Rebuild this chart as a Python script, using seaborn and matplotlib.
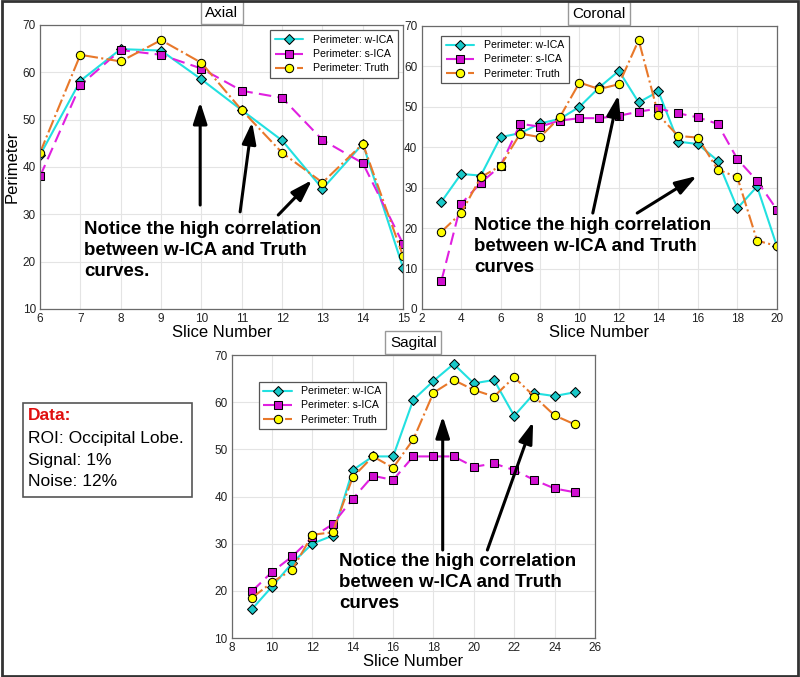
import numpy as np
import pandas as pd
import matplotlib
matplotlib.use("Agg")
import matplotlib.pyplot as plt
from matplotlib.patches import Rectangle
import seaborn as sns

# Valores
axial_x = list(range(6, 16))
axial_wica = [42.5, 58.2, 64.9, 64.6, 58.5, 52.0, 45.6, 35.4, 44.9, 18.6]
axial_sica = [38.0, 57.3, 64.7, 63.7, 60.8, 56.1, 54.6, 45.7, 40.8, 23.7]
axial_truth = [43.0, 63.7, 62.3, 66.8, 62.0, 52.0, 43.0, 36.7, 44.9, 21.1]

coronal_x = list(range(3, 21))
coronal_wica = [26.5, 33.4, 33.0, 42.5, 43.5, 45.9, 47.0, 50.0, 54.8, 58.9,
                51.1, 53.8, 41.4, 40.8, 36.7, 24.9, 30.3, 15.6]
coronal_sica = [6.9, 26.0, 31.2, 35.4, 45.8, 45.1, 46.6, 47.2, 47.2, 47.8,
                48.8, 49.6, 48.4, 47.4, 45.8, 37.1, 31.7, 24.6]
coronal_truth = [19.1, 23.7, 32.6, 35.4, 43.4, 42.5, 47.4, 56.0, 54.4, 55.6,
                 66.5, 48.0, 42.8, 42.4, 34.5, 32.6, 16.9, 15.6]

sagital_x = list(range(9, 26))
sagital_wica = [16.1, 20.9, 25.9, 30.0, 31.7, 45.6, 48.5, 48.5, 60.5, 64.5,
                68.1, 64.0, 64.7, 57.1, 61.9, 61.3, 62.1]
sagital_sica = [19.9, 24.0, 27.3, 31.4, 34.1, 39.5, 44.4, 43.5, 48.5, 48.5,
                48.5, 46.3, 47.0, 45.6, 43.5, 41.7, 40.9]
sagital_truth = [18.5, 21.8, 24.5, 31.9, 32.4, 44.1, 48.5, 46.1, 52.1, 62.0,
                 64.7, 62.6, 61.2, 65.3, 61.2, 57.2, 55.3]

note_text = "Notice the high correlation\nbetween w-ICA and Truth\ncurves"

sns.set_style("whitegrid")
plt.rcParams['font.family'] = ['Liberation Sans', 'DejaVu Sans']
plt.rcParams['text.color'] = 'black'
plt.rcParams['axes.labelcolor'] = 'black'

styles = [
    ("Perimeter: w-ICA", dict(color="#22e0e0", linestyle="-", marker="D", markersize=5,
                              markerfacecolor="#19c8c8", markeredgecolor="black", linewidth=1.5)),
    ("Perimeter: s-ICA", dict(color="#e020e0", linestyle=(0, (6, 3)), marker="s", markersize=6,
                              markerfacecolor="#d010d0", markeredgecolor="black", linewidth=1.5)),
    ("Perimeter: Truth", dict(color="#e8782a", linestyle="-.", marker="o", markersize=6,
                              markerfacecolor="#ffff00", markeredgecolor="black", linewidth=1.5)),
]


def drawPanel(ax, x, series, title, xlim, ylim, xticks, legend_loc, anchor=None):
    for (label, kw), y in zip(styles, series):
        df = pd.DataFrame({"x": x, "y": y})
        sns.lineplot(data=df, x="x", y="y", ax=ax, label=label, **kw)
    ax.set_xlim(*xlim)
    ax.set_ylim(*ylim)
    ax.set_xticks(xticks)
    ax.set_yticks(np.arange(ylim[0], ylim[1] + 1, 10))
    ax.tick_params(labelsize=8.5, length=0, pad=3, colors="#222222")
    ax.grid(True, color="#e4e4e4", linewidth=0.8)
    for s in ax.spines.values():
        s.set_color("#6a6a6a")
        s.set_linewidth(0.9)
    ax.set_xlabel("Slice Number", fontsize=12, labelpad=0)
    ax.set_ylabel("")
    ax.set_title(title, fontsize=11, pad=6,
                 bbox=dict(boxstyle="square,pad=0.3", facecolor="white", edgecolor="#999999"))
    kw = dict(loc=legend_loc, fontsize=7.6, fancybox=False, framealpha=1,
              edgecolor="#555555", handlelength=2.7, borderpad=0.45,
              labelspacing=0.4, handletextpad=0.9)
    if anchor is not None:
        kw["bbox_to_anchor"] = anchor
    leg = ax.legend(**kw)
    leg.get_frame().set_linewidth(0.9)


def addNotes(ax, text, text_xy, arrows):
    ax.text(text_xy[0], text_xy[1], text, transform=ax.transAxes, fontsize=13.5,
            fontweight="bold", va="top", ha="left", linespacing=1.3, zorder=6,
            color="black")
    for tail, head in arrows:
        ax.annotate("", xy=head, xytext=tail, xycoords="axes fraction",
                    textcoords="axes fraction",
                    arrowprops=dict(arrowstyle="-|>,head_length=1.3,head_width=0.42",
                                    color="black", lw=2.2, shrinkA=0, shrinkB=0), zorder=6)


def main():
    fig = plt.figure(figsize=(8, 6.77), dpi=100)

    ax1 = fig.add_axes([0.050, 0.5436, 0.454, 0.4195])
    drawPanel(ax1, axial_x, [axial_wica, axial_sica, axial_truth], "Axial",
              (6, 15), (10, 70), range(6, 16), "upper right")
    ax1.set_ylabel("Perimeter", fontsize=12, labelpad=2)
    addNotes(ax1, note_text + ".", (0.121, 0.31),
             [((0.441, 0.366), (0.441, 0.729)),
              ((0.551, 0.342), (0.584, 0.658)),
              ((0.656, 0.331), (0.749, 0.454))])

    ax2 = fig.add_axes([0.527, 0.5436, 0.444, 0.418])
    drawPanel(ax2, coronal_x, [coronal_wica, coronal_sica, coronal_truth], "Coronal",
              (2, 20), (0, 70), range(2, 21, 2), "upper left", anchor=(0.04, 0.985))
    addNotes(ax2, note_text, (0.147, 0.325),
             [((0.482, 0.339), (0.554, 0.756)),
              ((0.607, 0.339), (0.775, 0.470))])

    ax3 = fig.add_axes([0.2896, 0.0576, 0.454, 0.418])
    drawPanel(ax3, sagital_x, [sagital_wica, sagital_sica, sagital_truth], "Sagital",
              (8, 26), (10, 70), range(8, 27, 2), "upper left", anchor=(0.06, 0.925))
    addNotes(ax3, note_text, (0.295, 0.30),
             [((0.581, 0.311), (0.581, 0.784)),
              ((0.704, 0.311), (0.830, 0.764))])

    # caixa de dados
    fig.patches.append(Rectangle((23 / 800, 1 - 497 / 677), 169 / 800, 94 / 677,
                                 transform=fig.transFigure, facecolor="white",
                                 edgecolor="#555555", linewidth=1.2))
    fig.text(28 / 800, 1 - 415 / 677, "Data:", color="#e01010", fontsize=12.5,
             fontweight="bold", va="center")
    for i, line in enumerate(["ROI: Occipital Lobe.", "Signal: 1%", "Noise: 12%"]):
        fig.text(28 / 800, 1 - (438 + 22 * i) / 677, line, fontsize=12.5, va="center")

    # moldura externa
    fig.patches.append(Rectangle((0.002, 0.002), 0.996, 0.996, transform=fig.transFigure,
                                 fill=False, edgecolor="#333333", linewidth=2))

    fig.savefig("out.png", dpi=100)


if __name__ == "__main__":
    main()
